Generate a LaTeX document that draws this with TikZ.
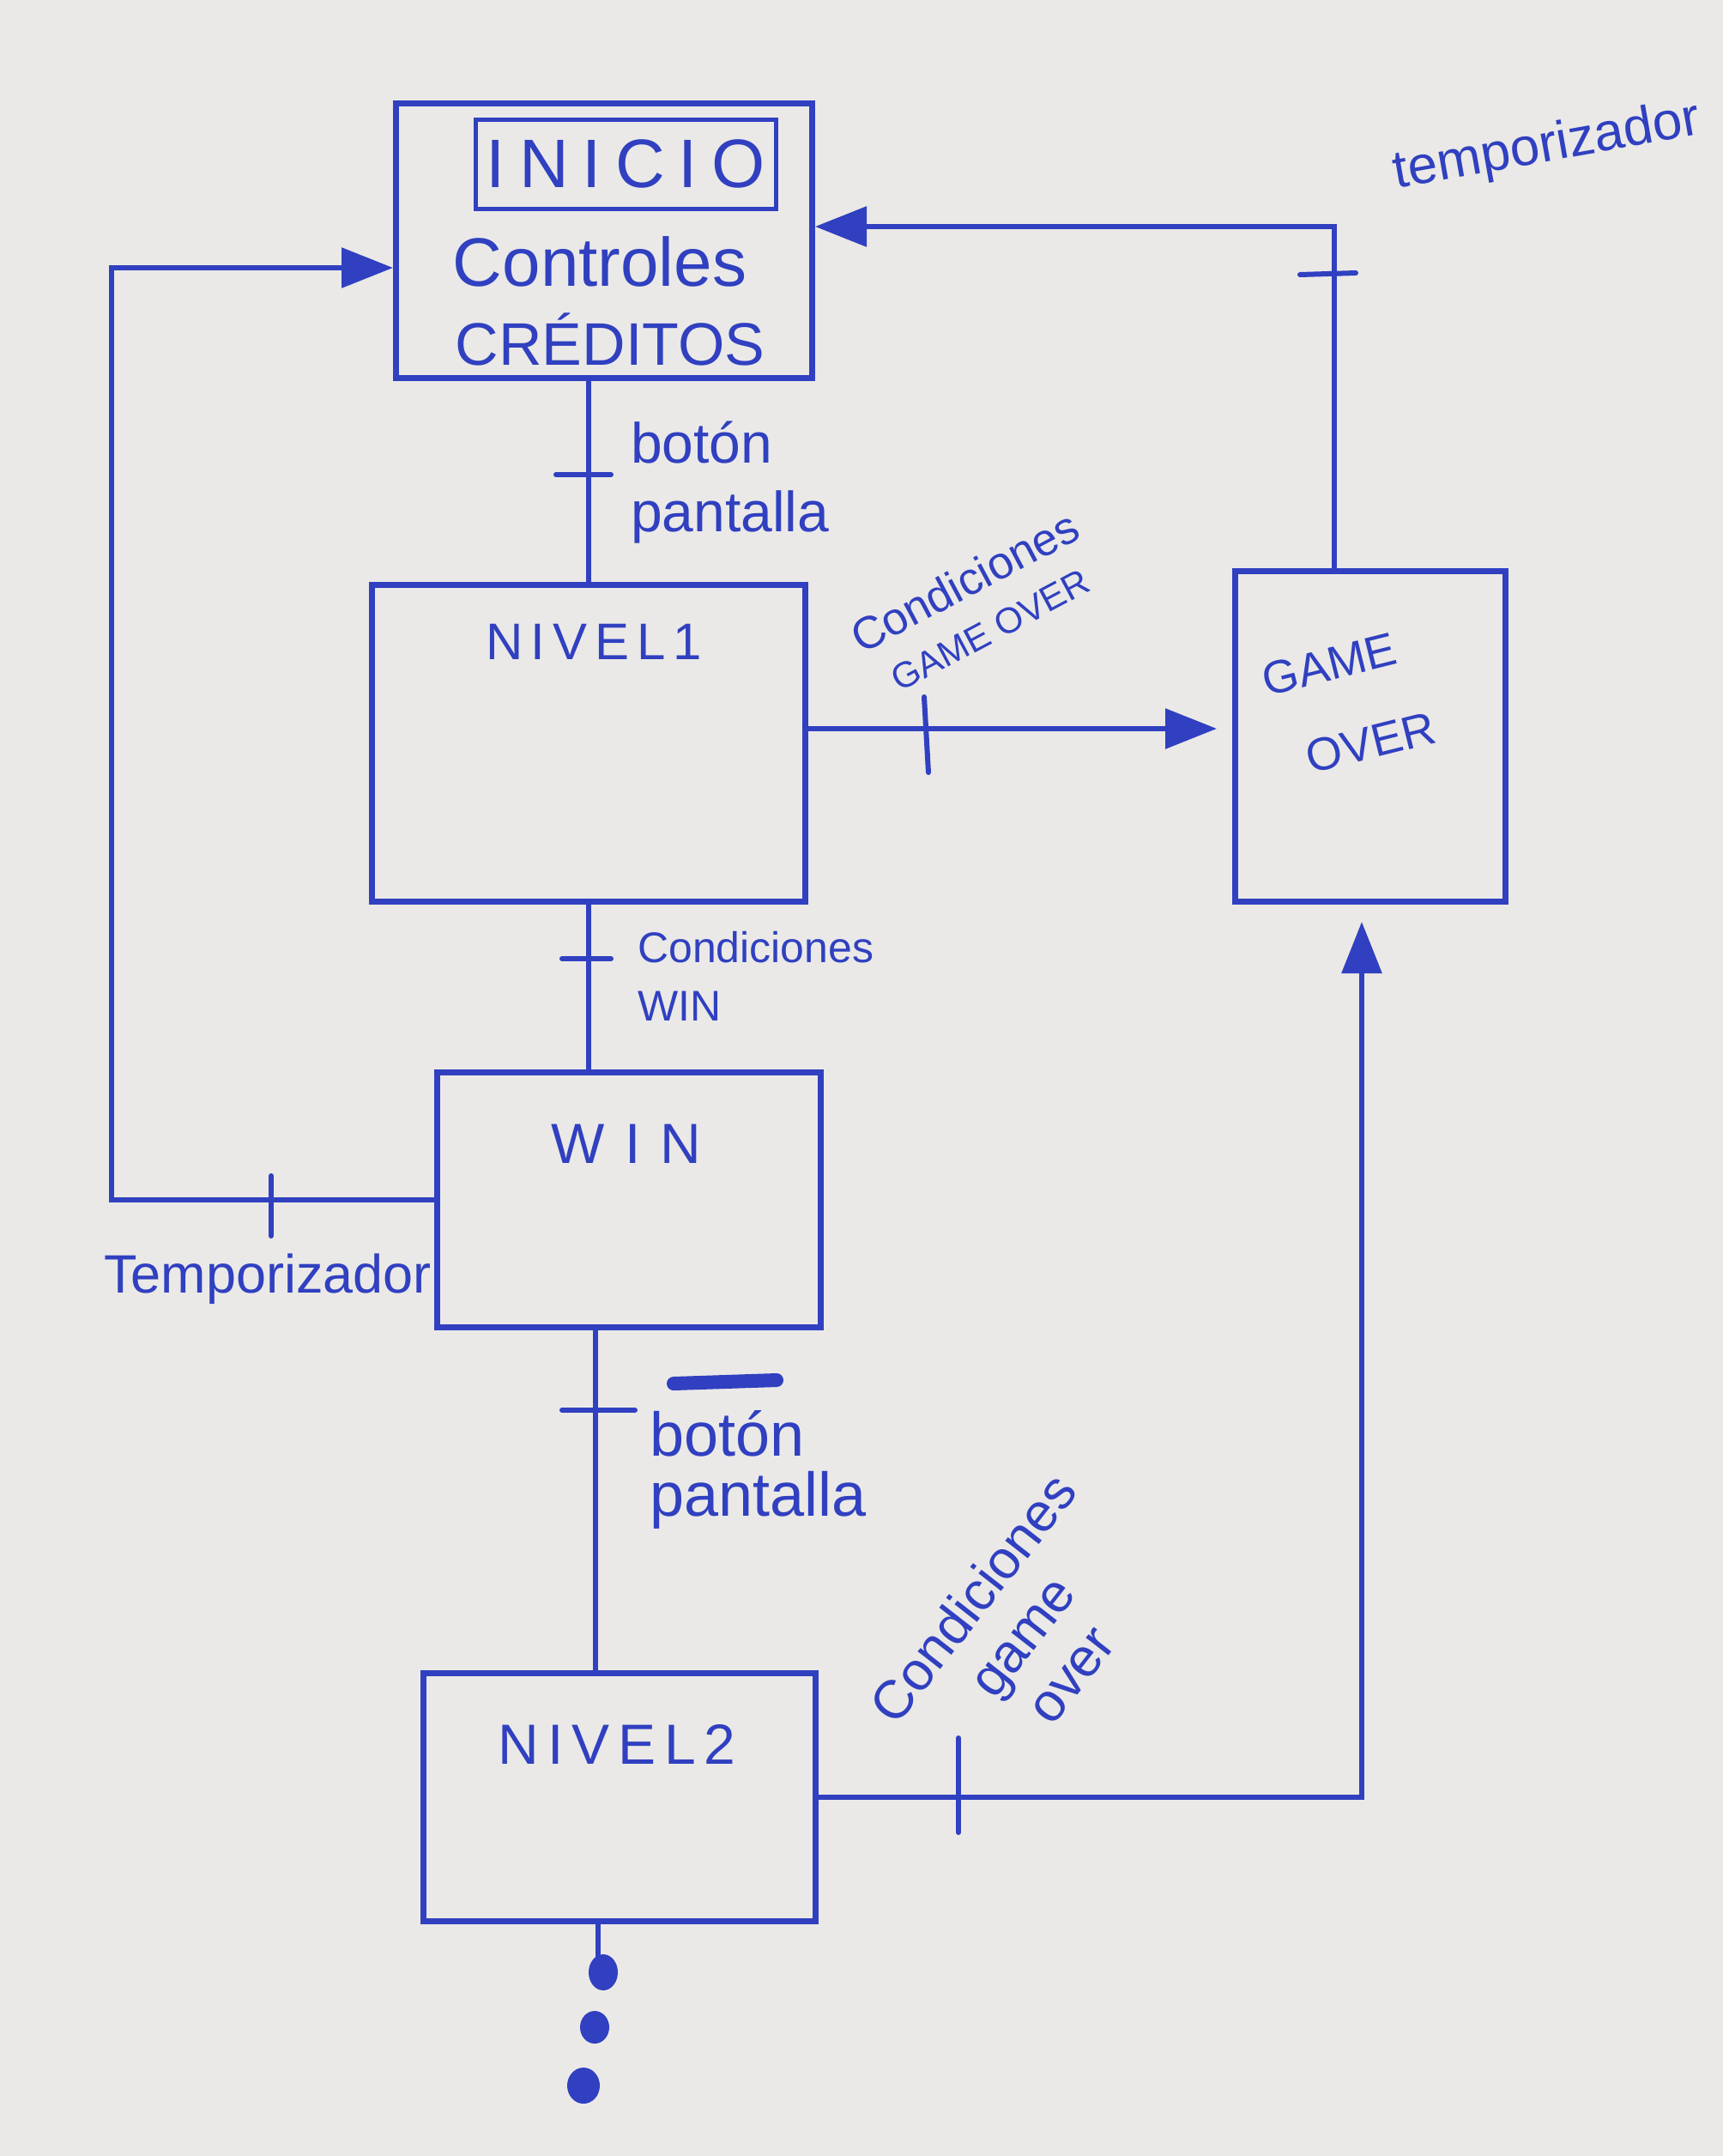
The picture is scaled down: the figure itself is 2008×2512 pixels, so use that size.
\documentclass[tikz,border=0pt]{standalone}
\usepackage{fontspec}
\setmainfont{Liberation Sans}
\newfontfamily\titlefont[LetterSpace=15]{Liberation Sans}
\usetikzlibrary{arrows.meta}
\definecolor{ink}{RGB}{48,64,192}
\definecolor{paper}{RGB}{234,233,231}
\begin{document}
\begin{tikzpicture}[x=1pt,y=-1pt,
  box/.style={draw=ink,line width=7pt,inner sep=0pt},
  conn/.style={draw=ink,line width=6pt},
  arr/.style={conn,-{Triangle[length=60pt,width=46pt]}},
  tickmark/.style={draw=ink,line width=6pt,line cap=round},
  lbl/.style={text=ink,inner sep=0pt},
  ttl/.style={lbl,font=\titlefont\fontsize{62}{62}\selectfont}]
\fill[paper] (0,0) rectangle (2008,2512);
\useasboundingbox (0,0) rectangle (2008,2512);

% boxes
\node[box,minimum width=485pt,minimum height=320pt] (inicio) at (704,280) {};
\node[lbl,draw=ink,line width=5pt,minimum width=350pt,minimum height=104pt,
      font=\titlefont\addfontfeature{LetterSpace=20}\fontsize{80}{80}\selectfont] (iniciot) at (729,191) {INICIO};
\node[lbl,font=\fontsize{80}{80}\selectfont] (controles) at (699,305) {Controles};
\node[lbl,font=\fontsize{70}{70}\selectfont] (creditos) at (711,395) {CRÉDITOS};

\node[box,minimum width=505pt,minimum height=369pt] (nivel1) at (686,866) {};
\node[ttl,font=\titlefont\fontsize{60}{60}\selectfont] (nivel1t) at (692,748) {NIVEL1};

\node[box,minimum width=315pt,minimum height=385pt] (gameover) at (1597,858) {};
\node[lbl,font=\fontsize{54}{100}\selectfont,rotate=14,align=left] (gameovert) at (1572,820) {GAME\\\hspace{28pt}OVER};

\node[box,minimum width=447pt,minimum height=297pt] (win) at (733,1398) {};
\node[lbl,font=\titlefont\addfontfeature{LetterSpace=35}\fontsize{66}{66}\selectfont] (wint) at (730,1333) {WIN};

\node[box,minimum width=457pt,minimum height=289pt] (nivel2) at (722,2094) {};
\node[ttl,font=\titlefont\fontsize{66}{66}\selectfont] (nivel2t) at (719,2032) {NIVEL2};

% connectors
\coordinate (leftx) at (130,800);
\coordinate (inIn) at ([yshift=-32pt]inicio.west);
\draw[conn] (nivel1.north |- inicio.south) -- (nivel1.north);
\draw[conn] (nivel1.south) -- (nivel1.south |- win.north);
\draw[conn] ([xshift=-39pt]win.south) -- ([xshift=-39pt]win.south |- nivel2.north);
\draw[arr,shorten >=18pt] ([yshift=17pt]nivel1.east) -- ([yshift=17pt]nivel1.east -| gameover.west);
\draw[arr,shorten >=20pt] (nivel2.east) -| ([xshift=-10pt]gameover.south);
\draw[arr] ([xshift=-42pt]gameover.north) |- ([yshift=16pt]inicio.east);
\draw[arr] (win.west) -- (win.west -| leftx) -- (inIn -| leftx) -- (inIn);
\coordinate (dotsTop) at ([xshift=-25pt,yshift=-45pt]nivel2.south);
\draw[conn] ([xshift=-25pt]nivel2.south) -- (dotsTop);

% ticks
\draw[tickmark] (648,553) -- (712,553);
\draw[tickmark] (1077,812) -- (1082,900);
\draw[tickmark] (655,1117) -- (712,1117);
\draw[tickmark] (655,1643) -- (740,1643);
\draw[tickmark] (316,1370) -- (316,1440);
\draw[tickmark] (1515,320) -- (1580,318);
\draw[tickmark] (1117,2025) -- (1117,2135);

% labels
\node[lbl,font=\fontsize{62}{62}\selectfont,rotate=10] (temp1) at (1803,172) {temporizador};
\node[lbl,font=\fontsize{66}{80}\selectfont,align=left,anchor=west] (bp1) at (735,562) {botón\\pantalla};
\node[lbl,font=\fontsize{53}{60}\selectfont,rotate=28,align=center] (cgo1) at (1138,704) {Condiciones\\{\fontsize{42}{42}\selectfont GAME OVER}};
\node[lbl,font=\fontsize{50}{68}\selectfont,align=left,anchor=west] (cwin) at (743,1137) {Condiciones\\WIN};
\node[lbl,font=\fontsize{63}{63}\selectfont] (temp2) at (312,1490) {Temporizador};
\draw[ink,line width=16pt,line cap=round] (785,1612) -- (905,1608);
\node[lbl,font=\fontsize{72}{70}\selectfont,align=left,anchor=west] (bp2) at (757,1712) {botón\\pantalla};
\node[lbl,font=\fontsize{63}{72}\selectfont,rotate=52,align=center] (cgo2) at (1190,1906) {Condiciones\\game\\over};

% dots
\fill[ink] (703,2298) ellipse (17pt and 21pt);
\fill[ink] (693,2362) ellipse (17pt and 19pt);
\fill[ink] (680,2430) ellipse (19pt and 21pt);
\end{tikzpicture}
\end{document}
